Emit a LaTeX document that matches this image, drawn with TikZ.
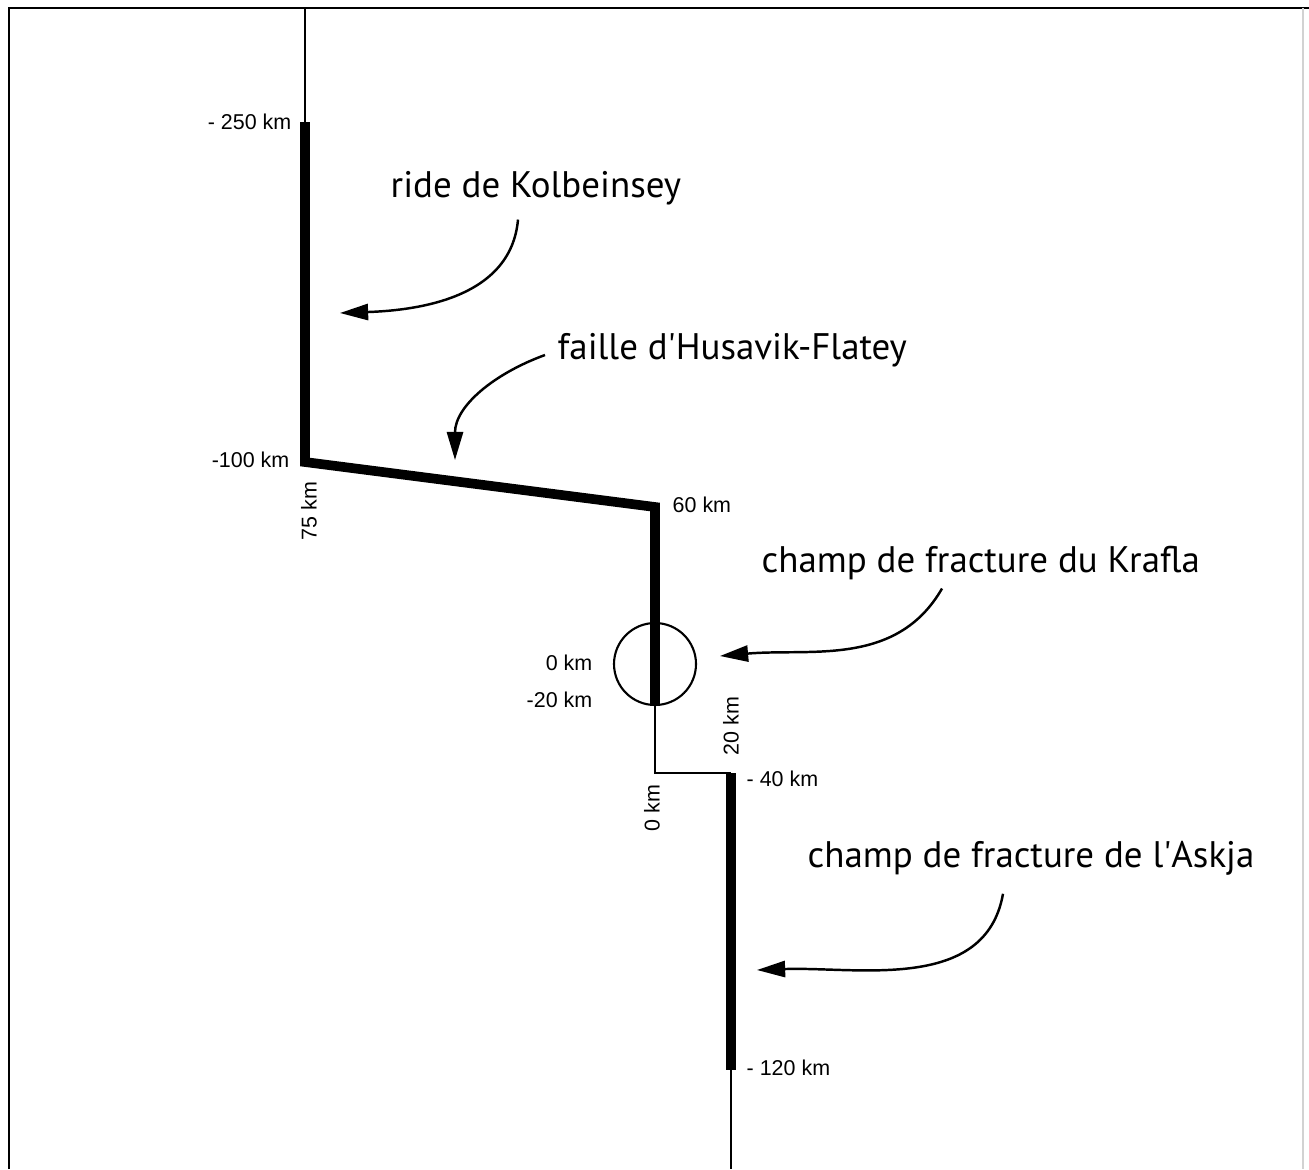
\documentclass[tikz,border=0pt]{standalone}
\usepackage{fontspec}
\setmainfont{Liberation Sans}
\newfontfamily\calloutfont{PT Sans}
\usetikzlibrary{arrows.meta, positioning, calc}

\begin{document}
\begin{tikzpicture}[x=0.01cm, y=0.01cm,
    km/.style={font=\fontsize{6.1}{7}\selectfont, inner sep=0pt},
    callout/.style={font=\calloutfont\fontsize{10.5}{12}\selectfont, inner sep=0pt},
    rift/.style={line width=2.75pt, line join=miter},
    axis/.style={line width=0.6pt},
    pointer/.style={line width=0.7pt, -{Triangle[length=8pt,width=4.6pt]}}]
  \useasboundingbox (0,0) rectangle (1309,-1169);

  % frame
  \draw[line width=0.8pt] (9,-1169) -- (9,-8) -- (1309,-8);
  \draw[gray!35, line width=0.4pt] (1303,-8) -- (1303,-1169);

  % plate boundary
  \coordinate (top) at (305,-8);
  \coordinate (kolbN) at (305,-122);
  \coordinate (kolbS) at (305,-462);
  \coordinate (krafN) at (655,-507);
  \coordinate (krafS) at (655,-705);
  \coordinate (jog) at (655,-773);
  \coordinate (askN) at (731,-773);
  \coordinate (askS) at (731,-1070);
  \coordinate (bottom) at (731,-1169);

  \draw[axis] (top) -- (kolbN);
  \draw[rift] (kolbN) -- (kolbS) -- (krafN) -- (krafS);
  \draw[axis] (krafS) -- (jog) -- (askN);
  \draw[rift] (askN) -- (askS);
  \draw[axis] (askS) -- (bottom);
  \draw[axis] (655,-664) circle (41);

  % distances
  \node[km, anchor=east] (l250) at (292,-122) {- 250 km};
  \node[km, anchor=east] (l100) at (290,-460) {-100 km};
  \node[km, rotate=90] (l75) at (309,-511) {75 km};
  \node[km, anchor=west] (l60) at (672,-505) {60 km};
  \node[km, anchor=east] (l0a) at (593,-663) {0 km};
  \node[km, anchor=east] (l20a) at (593,-700) {-20 km};
  \node[km, rotate=90] (l20b) at (731,-726) {20 km};
  \node[km, anchor=west] (l40) at (746,-779) {- 40 km};
  \node[km, rotate=90] (l0b) at (652,-808) {0 km};
  \node[km, anchor=west] (l120) at (746,-1068) {- 120 km};

  % names
  \node[callout, anchor=west] (kolb) at (390,-188) {ride de Kolbeinsey};
  \node[callout, anchor=west] (husa) at (557,-350) {faille d\textquotesingle Husavik-Flatey};
  \node[callout, anchor=west] (kraf) at (761,-563) {champ de fracture du Krafla};
  \node[callout, anchor=west] (askj) at (807,-858) {champ de fracture de l\textquotesingle Askja};

  % arrows
  \coordinate (kolbtip) at (340,-313);
  \coordinate (husatip) at (455,-460);
  \coordinate (kraftip) at (720,-656);
  \coordinate (askjtip) at (757,-970);
  \draw[pointer] ($(kolb.south west)+(128,-14)$) to[out=-95, in=2] (kolbtip);
  \draw[pointer] ($(husa.west)+(-12,-5)$) to[out=200, in=90] (husatip);
  \draw[pointer] ($(kraf.south west)+(181,-8)$) to[out=-120, in=5] (kraftip);
  \draw[pointer] ($(askj.south west)+(196,-18)$) to[out=-100, in=2] (askjtip);
\end{tikzpicture}
\end{document}
